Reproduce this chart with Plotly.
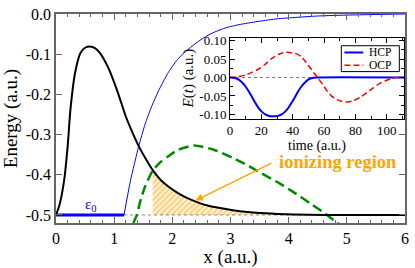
import plotly.graph_objects as go

# ---------------- data ----------------
# main panel
black_x = [0, 0.06, 0.14, 0.2, 0.25, 0.33, 0.42, 0.5, 0.585, 0.67, 0.75, 0.9, 1.05, 1.2, 1.3,
           1.42, 1.55, 1.66, 1.8, 1.92, 2.09, 2.26, 2.59, 3.04, 3.6, 4.1, 4.6, 5.0, 6.0]
black_y = [-0.5, -0.475, -0.414, -0.33, -0.235, -0.145, -0.097, -0.084, -0.081, -0.085, -0.096,
           -0.134, -0.19, -0.255, -0.29, -0.328, -0.362, -0.388, -0.413, -0.428, -0.445, -0.458,
           -0.476, -0.488, -0.496, -0.499, -0.5, -0.5, -0.5]

blue_x = [1.17, 1.28, 1.42, 1.53, 1.65, 1.76, 1.92, 2.09, 2.2, 2.34, 2.48, 2.65, 2.81, 2.95,
          3.2, 3.5, 3.8, 4.07, 4.5, 4.9, 5.4, 6.0]
blue_y = [-0.5, -0.415, -0.33, -0.275, -0.228, -0.192, -0.148, -0.113, -0.097, -0.08, -0.065,
          -0.05, -0.04, -0.033, -0.025, -0.018, -0.012, -0.009, -0.005, -0.003, -0.0015, 0.0]

green_x = [1.33, 1.39, 1.46, 1.53, 1.66, 1.8, 1.92, 2.1, 2.37, 2.7, 3.04, 3.3, 3.48, 3.85,
           4.07, 4.4, 4.63, 4.82, 4.86]
green_y = [-0.52, -0.5, -0.46, -0.43, -0.39, -0.368, -0.355, -0.338, -0.327, -0.337, -0.358,
           -0.377, -0.392, -0.422, -0.442, -0.474, -0.497, -0.518, -0.522]

eps0_x = [0, 1.17]
eps0_y = [-0.5, -0.5]
dotted_x = [1.17, 4.5]
dotted_y = [-0.5, -0.5]
ion_start = 1.66
ion_end = 4.6

x_tickvals = [0, 1, 2, 3, 4, 5, 6]
x_ticktext = ["0", "1", "2", "3", "4", "5", "6"]
y_tickvals = [0, -0.1, -0.2, -0.3, -0.4, -0.5]
y_ticktext = ["0.0", "-0.1", "-0.2", "-0.3", "-0.4", "-0.5"]

# inset
hcp_t = [0, 3, 5.8, 8, 10, 12, 14.2, 16.2, 18.3, 20.4, 22.5, 25, 27.7, 30.4, 32.9, 35, 37.1,
         39.2, 41.3, 43.4, 45.4, 47.5, 49.6, 52.4, 55.4, 111]
hcp_e = [0, -0.0015, -0.0066, -0.015, -0.025, -0.038, -0.054, -0.069, -0.083, -0.093, -0.1,
         -0.104, -0.105, -0.104, -0.1, -0.093, -0.083, -0.069, -0.054, -0.038, -0.025, -0.015,
         -0.0066, -0.0015, 0, 0]
ocp_t = [0, 5, 10, 14, 18.3, 22.5, 26.7, 31, 34, 37, 40, 42.5, 45.4, 48.5, 51.7, 55.8, 59, 62,
         65, 68.3, 71.5, 74.6, 78, 82.9, 87, 91.2, 95.5, 99.6, 103, 105.8, 111]
ocp_e = [0, 0.002, 0.007, 0.014, 0.023, 0.036, 0.052, 0.063, 0.067, 0.0685, 0.066, 0.064,
         0.057, 0.041, 0.023, 0, -0.018, -0.037, -0.051, -0.06, -0.065, -0.0665, -0.064, -0.054,
         -0.042, -0.029, -0.016, -0.008, -0.003, 0, 0]
zero_t = [0, 111]
zero_e = [0, 0]

t_tickvals = [0, 20, 40, 60, 80, 100]
t_ticktext = ["0", "20", "40", "60", "80", "100"]
e_tickvals = [0.1, 0.05, 0, -0.05, -0.1]
e_ticktext = ["0.10", "0.05", "0.00", "-0.05", "-0.10"]

series_names = ["HCP", "OCP"]
series_colors = ["#0000FF", "#FF0000"]
series_dash = ["solid", "6px,3px"]
series_width = [2, 1.5]

# ---------------- figure ----------------
FONT = "'Liberation Serif', 'Times New Roman', 'DejaVu Serif', serif"
ORANGE = "#FFA500"

fig = go.Figure()

# hatched ionizing region (under black curve, above -0.5)
hx = [x for x in black_x if ion_start <= x <= ion_end]
hy = [y for x, y in zip(black_x, black_y) if ion_start <= x <= ion_end]
fig.add_trace(go.Scatter(
    x=hx + [hx[-1], hx[0]], y=hy + [-0.5, -0.5],
    mode="lines", line=dict(width=0), fill="toself", fillcolor="rgba(0,0,0,0)",
    fillpattern=dict(shape="/", fgcolor=ORANGE, bgcolor="rgba(255,255,255,0)",
                     size=4, solidity=0.65),
    showlegend=False, hoverinfo="skip"))

fig.add_trace(go.Scatter(x=dotted_x, y=dotted_y, mode="lines",
                         line=dict(color="#888888", width=1, dash="dot"), showlegend=False))
fig.add_trace(go.Scatter(x=eps0_x, y=eps0_y, mode="lines",
                         line=dict(color="#0000FF", width=3), showlegend=False))
fig.add_trace(go.Scatter(x=blue_x, y=blue_y, mode="lines",
                         line=dict(color="#0000FF", width=1, shape="spline", smoothing=0.6),
                         showlegend=False))
fig.add_trace(go.Scatter(x=green_x, y=green_y, mode="lines",
                         line=dict(color="#008A00", width=2.5, dash="10px,5px",
                                   shape="spline", smoothing=0.6), showlegend=False))
fig.add_trace(go.Scatter(x=black_x, y=black_y, mode="lines",
                         line=dict(color="black", width=2, shape="spline", smoothing=0.6),
                         showlegend=False))

# inset traces
fig.add_trace(go.Scatter(x=zero_t, y=zero_e, xaxis="x2", yaxis="y2", mode="lines",
                         line=dict(color="#777777", width=1, dash="dot"), showlegend=False))
fig.add_trace(go.Scatter(x=hcp_t, y=hcp_e, xaxis="x2", yaxis="y2", mode="lines",
                         name=series_names[0], showlegend=False,
                         line=dict(color=series_colors[0], width=series_width[0],
                                   dash=series_dash[0], shape="spline", smoothing=0.6)))
fig.add_trace(go.Scatter(x=ocp_t, y=ocp_e, xaxis="x2", yaxis="y2", mode="lines",
                         name=series_names[1], showlegend=False,
                         line=dict(color=series_colors[1], width=series_width[1],
                                   dash=series_dash[1], shape="spline", smoothing=0.6)))

axis_common = dict(showgrid=False, zeroline=False, showline=True, ticks="inside",
                   mirror="ticks")

fig.update_layout(
    width=415, height=268,
    margin=dict(l=50, r=6, t=6, b=36),
    paper_bgcolor="white", plot_bgcolor="white",
    font=dict(family=FONT, color="black"),
    xaxis=dict(axis_common, range=[0, 6], domain=[0, 1],
               tickvals=x_tickvals, ticktext=x_ticktext,
               linecolor="#666666", linewidth=1.5, tickcolor="#666666", ticklen=6,
               minor=dict(dtick=0.2, ticklen=3, ticks="inside", tickcolor="#666666"),
               tickfont=dict(size=16, family=FONT),
               title=dict(text="x (a.u.)", font=dict(size=19, family=FONT), standoff=2)),
    yaxis=dict(axis_common, range=[-0.52, 0.0], domain=[0, 1],
               tickvals=y_tickvals, ticktext=y_ticktext,
               linecolor="#666666", linewidth=1.5, tickcolor="#666666", ticklen=6,
               tickfont=dict(size=16, family=FONT),
               title=dict(text="Energy (a.u.)", font=dict(size=19, family=FONT), standoff=6)),
    xaxis2=dict(axis_common, range=[0, 111], domain=[0.4986, 0.9972], anchor="y2",
                tickvals=t_tickvals, ticktext=t_ticktext,
                linecolor="black", linewidth=1, tickcolor="black", ticklen=5,
                minor=dict(dtick=10, ticklen=3, ticks="inside", tickcolor="black"),
                tickfont=dict(size=13, family=FONT),
                title=dict(text="time (a.u.)", font=dict(size=14, family=FONT), standoff=0)),
    yaxis2=dict(axis_common, range=[-0.111, 0.108], domain=[0.5, 0.887], anchor="x2",
                tickvals=e_tickvals, ticktext=e_ticktext,
                linecolor="black", linewidth=1, tickcolor="black", ticklen=5,
                minor=dict(dtick=0.025, ticklen=3, ticks="inside", tickcolor="black"),
                tickfont=dict(size=13, family=FONT),
                title=dict(text="<i>E</i>(<i>t</i>) (a.u.)", font=dict(size=15, family=FONT),
                           standoff=2)),
    showlegend=False,
)

# compact legend for the inset (box, sample lines and labels in inset axis units)
leg_x0, leg_x1 = 71, 108
leg_y0, leg_y1 = 0.016, 0.086
leg_rows = [0.068, 0.0335]
fig.add_shape(type="rect", xref="x2", yref="y2", x0=leg_x0, x1=leg_x1, y0=leg_y0, y1=leg_y1,
              line=dict(color="black", width=1), fillcolor="white", layer="above")
for name, col, dsh, wid, ry in zip(series_names, series_colors, series_dash, series_width,
                                   leg_rows):
    fig.add_shape(type="line", xref="x2", yref="y2", x0=73, x1=85, y0=ry, y1=ry,
                  line=dict(color=col, width=wid, dash=dsh), layer="above")
    fig.add_annotation(x=87.5, y=ry, xref="x2", yref="y2", text=name, showarrow=False,
                       xanchor="left", font=dict(size=11.5, family=FONT, color="black"))

fig.add_annotation(x=0.6, y=-0.476, xref="x", yref="y", text="ε<sub>0</sub>",
                   showarrow=False, font=dict(size=15, family=FONT, color="#0000FF"))
fig.add_annotation(x=4.84, y=-0.368, xref="x", yref="y", text="<b>ionizing region</b>",
                   showarrow=False, font=dict(size=18.5, family=FONT, color=ORANGE))
fig.add_annotation(x=2.40, y=-0.464, xref="x", yref="y", ax=3.73, ay=-0.369,
                   axref="x", ayref="y", text="", showarrow=True,
                   arrowhead=2, arrowsize=1, arrowwidth=1.5, arrowcolor=ORANGE)

fig.write_html("out.html", config={"displayModeBar": False},
               post_script="document.body.style.margin='0';document.body.style.padding='0';"
                           "document.body.style.overflow='hidden';")
